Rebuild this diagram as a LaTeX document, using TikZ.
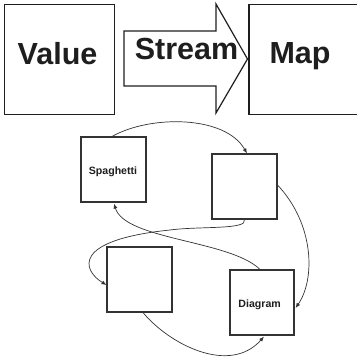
\documentclass[tikz,border=0pt]{standalone}
\usepackage{fontspec}
\setmainfont{Liberation Sans}
\usetikzlibrary{arrows.meta}
\definecolor{ink}{HTML}{1E1E1E}
\definecolor{wire}{HTML}{333333}
\tikzset{
  bigbox/.style={draw=ink, line width=1.2pt, minimum width=110pt, minimum height=110pt, inner sep=0pt},
  smallbox/.style={draw=wire, line width=1.1pt, minimum width=65pt, minimum height=65pt, inner sep=0pt},
  bigtext/.style={font=\bfseries\fontsize{30.5}{34}\selectfont, text=ink, anchor=base, inner sep=0pt},
  smalltext/.style={font=\bfseries\fontsize{10.6}{12}\selectfont, text=ink, anchor=base, inner sep=0pt},
  flow/.style={draw=wire, line width=0.7pt, -{Latex[length=5pt,width=4pt]}}
}
\begin{document}
\begin{tikzpicture}[x=1pt,y=-1pt]
\useasboundingbox (0,0) rectangle (357,360);
\clip (0,0) rectangle (357,360);
% top row
\node[bigbox] (value) at (59.5,59.5) {};
\node[bigbox, minimum width=120pt] (map) at (309,59.5) {};
\draw[ink, line width=1.2pt, line join=miter] (124,31) -- (216,31) -- (216,4) -- (247.5,59) -- (216,113) -- (216,86) -- (124,86) -- cycle;
\node[bigtext] (tvalue) at (57.5,64) {Value};
\node[bigtext] (tstream) at (186.5,59) {Stream};
\node[bigtext] (tmap) at (300,63.5) {Map};
% lower boxes
\node[smallbox] (sp) at (113.5,169.5) {};
\node[smallbox] (b2) at (244.5,186.5) {};
\node[smallbox] (b3) at (139.5,279.5) {};
\node[smallbox, minimum width=64pt] (dg) at (262,302.5) {};
\node[smalltext] (tsp) at (113,174) {Spaghetti};
\node[smalltext] (tdg) at (259.7,307.3) {Diagram};
% connectors
\draw[flow] ([xshift=-1.5pt]sp.north) .. controls (150,115) and (225,115) .. ([xshift=2.5pt]b2.north);
\draw[flow] ([yshift=1.5pt]b2.east) .. controls (315,225) and (315,280) .. ([yshift=-5.5pt,xshift=1pt]dg.east);
\draw[flow] (b2.south) .. controls (248,230) and (200,226) .. (170,230)
   .. controls (72,240) and (82,270) .. ([yshift=-5.5pt]b3.west);
\draw[flow] ([xshift=3.5pt]b3.south) .. controls (170,345) and (230,375) .. ([xshift=2pt,yshift=-1pt]dg.south);
\draw[flow] ([xshift=-2pt]dg.north) .. controls (230,240) and (125,240) .. ([xshift=0.5pt,yshift=-1pt]sp.south);
\end{tikzpicture}
\end{document}
